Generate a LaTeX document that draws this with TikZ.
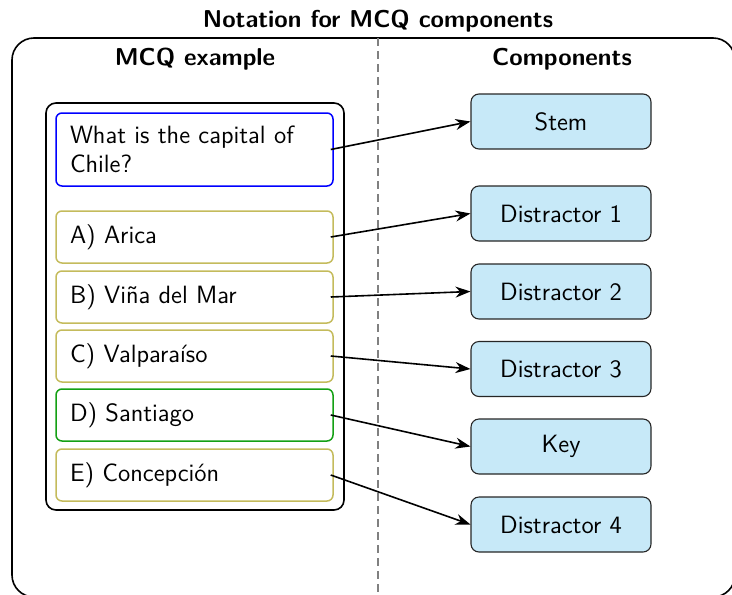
\documentclass[tikz,border=0pt]{standalone}
\usetikzlibrary{arrows.meta}
\definecolor{optcol}{RGB}{196,187,92}
\definecolor{keycol}{RGB}{20,160,20}
\definecolor{stemcol}{RGB}{0,0,255}
\definecolor{compfill}{RGB}{199,233,248}
\begin{document}
\begin{tikzpicture}[x=0.5pt,y=-0.5pt,
  every node/.style={font=\sffamily\fontsize{12.5}{14.4}\selectfont},
  heading/.style={font=\sffamily\bfseries\fontsize{12.2}{14.4}\selectfont, anchor=base, inner sep=0pt},
  optbox/.style={draw=optcol, line width=0.75pt, rounded corners=3pt, minimum width=138.5pt, minimum height=26pt, text width=124.5pt, inner xsep=7pt, align=left},
  compbox/.style={draw=black!85, fill=compfill, line width=0.55pt, rounded corners=4pt, minimum width=90pt, minimum height=27.5pt},
  conn/.style={-{Stealth[length=7.5pt,width=5.5pt]}, line width=0.8pt}
]
\useasboundingbox (0,0) rectangle (732,594);
% outer frame
\draw[line width=0.8pt, rounded corners=11pt] (12,38) rectangle (735,597);
% divider
\coordinate (dtop) at (378,38);
\coordinate (dbot) at (378,596);
\draw[gray, line width=0.65pt, dash pattern=on 4pt off 2.5pt] (dtop) -- (dbot);
% headings
\node[heading] (title) at (378,27) {Notation for MCQ components};
\node[heading] (hleft) at (195,65) {MCQ example};
\node[heading] (hright) at (562,65) {Components};
% inner question frame
\draw[line width=0.8pt, rounded corners=5pt] (46,103) rectangle (344,510);
% stem
\node[optbox, draw=stemcol, minimum height=36.5pt] (stem) at (194.5,149.5) {What is the capital of Chile?};
\node[optbox] (oa) at (194.5,237) {A) Arica};
\node[optbox] (ob) at (194.5,297) {B) Viña del Mar};
\node[optbox] (oc) at (194.5,356) {C) Valparaíso};
\node[optbox, draw=keycol] (od) at (194.5,415) {D) Santiago};
\node[optbox] (oe) at (194.5,475) {E) Concepción};
% components
\node[compbox] (cstem) at (561,121.5) {Stem};
\node[compbox] (c1) at (561,213.5) {Distractor 1};
\node[compbox] (c2) at (561,291.5) {Distractor 2};
\node[compbox] (c3) at (561,369) {Distractor 3};
\node[compbox] (ckey) at (561,446.5) {Key};
\node[compbox] (c4) at (561,524.5) {Distractor 4};
% connectors
\draw[conn] ([xshift=-1.5pt]stem.east) -- (cstem.west);
\draw[conn] ([xshift=-1.5pt]oa.east) -- (c1.west);
\draw[conn] ([xshift=-1.5pt]ob.east) -- (c2.west);
\draw[conn] ([xshift=-1.5pt]oc.east) -- (c3.west);
\draw[conn] ([xshift=-1.5pt]od.east) -- (ckey.west);
\draw[conn] ([xshift=-1.5pt]oe.east) -- (c4.west);
\end{tikzpicture}
\end{document}
